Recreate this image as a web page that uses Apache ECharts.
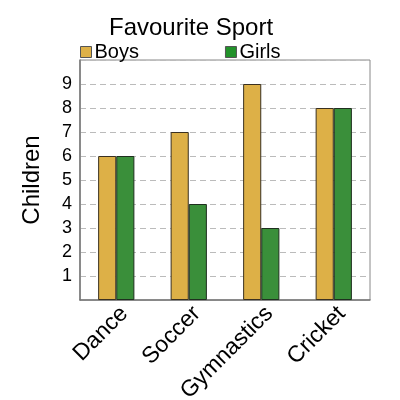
<!DOCTYPE html>
<html>
<head>
<meta charset="utf-8">
<script src="https://cdn.jsdelivr.net/npm/echarts@6/dist/echarts.min.js"></script>
<style>
  html, body { margin: 0; padding: 0; background: #fff; }
  #chart { width: 400px; height: 400px; }
</style>
</head>
<body>
<div id="chart"></div>
<script>
var sports = ['Dance', 'Soccer', 'Gymnastics', 'Cricket'];
var boys = [6, 7, 9, 8];
var girls = [6, 4, 3, 8];
var yTicks = [1, 2, 3, 4, 5, 6, 7, 8, 9];

var FONT = 'Liberation Sans, Arial, sans-serif';

var chart = echarts.init(document.getElementById('chart'));
chart.setOption({
    animation: false,
    title: {
        text: 'Favourite Sport',
        left: 104,
        top: 11,
        textStyle: { fontFamily: FONT, fontSize: 24, fontWeight: 'normal', color: '#000' }
    },
    legend: {
        data: [
            { name: 'Boys', itemStyle: { color: '#ddb047', borderColor: '#555', borderWidth: 1 } },
            { name: 'Girls', itemStyle: { color: '#22922a', borderColor: '#555', borderWidth: 1 } }
        ],
        left: 75,
        top: 37,
        icon: 'rect',
        itemWidth: 11,
        itemHeight: 11,
        itemGap: 86,
        textStyle: { fontFamily: FONT, fontSize: 20, color: '#000', padding: [0, 0, 0, -2] }
    },
    grid: {
        left: 80, right: 30, top: 60, bottom: 100,
        outerBoundsMode: 'none',
        show: true, borderColor: '#888', borderWidth: 1
    },
    xAxis: {
        type: 'category',
        data: sports,
        axisLine: { lineStyle: { color: '#777', width: 1.5 } },
        axisTick: { show: false },
        axisLabel: {
            rotate: 45, fontFamily: FONT, fontSize: 23, color: '#000',
            margin: 2, verticalAlign: 'top'
        }
    },
    yAxis: {
        type: 'value',
        min: 0, max: 10, interval: 1,
        name: 'Children',
        nameLocation: 'middle',
        nameGap: 36,
        nameRotate: 90,
        nameTextStyle: { fontFamily: FONT, fontSize: 24, color: '#000' },
        axisLine: { show: true, lineStyle: { color: '#777', width: 1.5 } },
        axisTick: { show: false },
        axisLabel: {
            fontFamily: FONT, fontSize: 18, color: '#000', margin: 8,
            formatter: function (v) { return yTicks.indexOf(v) >= 0 ? String(v) : ''; }
        },
        splitLine: { lineStyle: { color: '#bbb', type: [6, 4], width: 1.2 } }
    },
    series: [
        {
            name: 'Boys', type: 'bar', data: boys,
            barGap: '0%', barCategoryGap: '50%',
            itemStyle: { color: '#ddb047', borderColor: '#3a3020', borderWidth: 1 }
        },
        {
            name: 'Girls', type: 'bar', data: girls,
            itemStyle: { color: '#3a8f3a', borderColor: '#1f2f1f', borderWidth: 1 }
        }
    ]
});
</script>
</body>
</html>
